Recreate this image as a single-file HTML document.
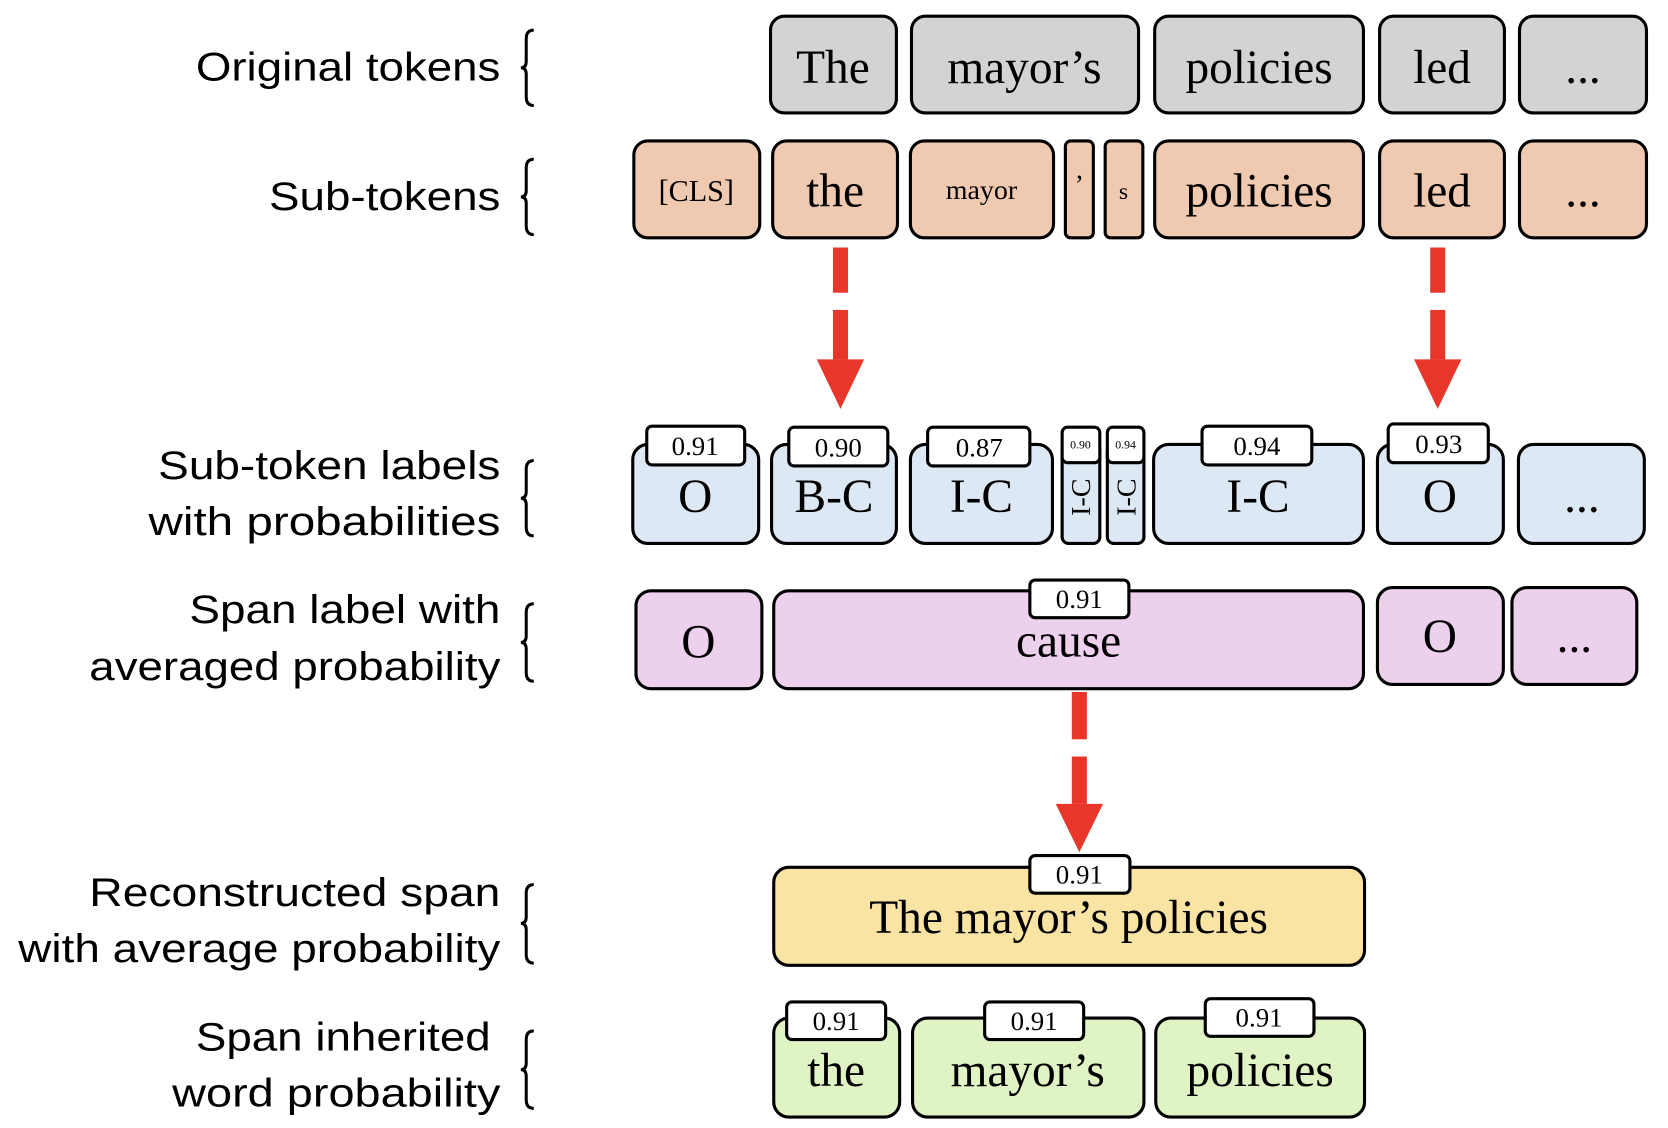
<!DOCTYPE html>
<html><head><meta charset="utf-8"><style>
html,body{margin:0;padding:0;background:#fff;}
svg{display:block;}
.l{font-family:"Liberation Sans",sans-serif;font-size:37px;fill:#000;}
.s{font-family:"Liberation Serif",serif;fill:#000;}
.b{stroke:#000;stroke-width:2.9;}
.br{fill:none;stroke:#000;stroke-width:2.8;}
</style></head><body>
<svg width="1668" height="1128" viewBox="0 0 1550 1048.2" preserveAspectRatio="none" xmlns="http://www.w3.org/2000/svg">
<g class="l" text-anchor="end">
<text x="465" y="75" textLength="283" lengthAdjust="spacingAndGlyphs">Original tokens</text>
<text x="465" y="195" textLength="215" lengthAdjust="spacingAndGlyphs">Sub-tokens</text>
<text x="465" y="445" textLength="318" lengthAdjust="spacingAndGlyphs">Sub-token labels</text>
<text x="465" y="497" textLength="327" lengthAdjust="spacingAndGlyphs">with probabilities</text>
<text x="465" y="579" textLength="289" lengthAdjust="spacingAndGlyphs">Span label with</text>
<text x="465" y="632" textLength="382" lengthAdjust="spacingAndGlyphs">averaged probability</text>
<text x="465" y="842" textLength="382" lengthAdjust="spacingAndGlyphs">Reconstructed span</text>
<text x="465" y="894" textLength="448" lengthAdjust="spacingAndGlyphs">with average probability</text>
<text x="456" y="976" textLength="274" lengthAdjust="spacingAndGlyphs">Span inherited</text>
<text x="465" y="1028" textLength="305" lengthAdjust="spacingAndGlyphs">word probability</text>
</g>
<g class="br">
<path d="M496,28 Q489,28 489,36 L489,57 Q489,63 484,63 Q489,63 489,69 L489,90 Q489,98 496,98"/>
<path d="M496,148 Q489,148 489,156 L489,177 Q489,183 484,183 Q489,183 489,189 L489,210 Q489,218 496,218"/>
<path d="M496,428 Q489,428 489,436 L489,457 Q489,463 484,463 Q489,463 489,469 L489,490 Q489,498 496,498"/>
<path d="M496,561 Q489,561 489,569 L489,591 Q489,597 484,597 Q489,597 489,603 L489,625 Q489,633 496,633"/>
<path d="M496,822 Q489,822 489,830 L489,852 Q489,858 484,858 Q489,858 489,864 L489,887 Q489,895 496,895"/>
<path d="M496,958 Q489,958 489,966 L489,988 Q489,994 484,994 Q489,994 489,1000 L489,1022 Q489,1030 496,1030"/>
</g>
<g class="b" fill="#d3d3d3">
<rect x="716" y="15" width="117" height="90" rx="13"/>
<rect x="847" y="15" width="211" height="90" rx="13"/>
<rect x="1073" y="15" width="194" height="90" rx="13"/>
<rect x="1282" y="15" width="116" height="90" rx="13"/>
<rect x="1412" y="15" width="118" height="90" rx="13"/>
</g>
<g class="s" font-size="44" text-anchor="middle">
<text x="774" y="77">The</text>
<text x="952" y="77">mayor’s</text>
<text x="1170" y="77">policies</text>
<text x="1340" y="77">led</text>
<text x="1471" y="77">...</text>
</g>
<g class="b" fill="#efc9b0">
<rect x="589" y="131" width="117" height="90" rx="13"/>
<rect x="718" y="131" width="116" height="90" rx="13"/>
<rect x="846" y="131" width="133" height="90" rx="13"/>
<rect x="990" y="131" width="26" height="90" rx="5"/>
<rect x="1027" y="131" width="35" height="90" rx="5"/>
<rect x="1073" y="131" width="194" height="90" rx="13"/>
<rect x="1282" y="131" width="116" height="90" rx="13"/>
<rect x="1412" y="131" width="118" height="90" rx="13"/>
</g>
<g class="s" text-anchor="middle">
<text x="647" y="187" font-size="28">[CLS]</text>
<text x="776" y="192" font-size="44">the</text>
<text x="912" y="185" font-size="26">mayor</text>
<text x="1003" y="180" font-size="26">’</text>
<text x="1044" y="185" font-size="22">s</text>
<text x="1170" y="192" font-size="44">policies</text>
<text x="1340" y="192" font-size="44">led</text>
<text x="1471" y="192" font-size="44">...</text>
</g>
<g fill="#e8362a">
<rect x="774" y="230" width="14" height="42"/><rect x="774" y="288" width="14" height="46"/>
<polygon points="759,334 803,334 781,380"/>
<rect x="1329" y="230" width="14" height="42"/><rect x="1329" y="288" width="14" height="46"/>
<polygon points="1314,334 1358,334 1336,380"/>
<rect x="996" y="643" width="14" height="44"/><rect x="996" y="703" width="14" height="44"/>
<polygon points="981,747 1025,747 1003,792"/>
</g>
<g class="b" fill="#dde8f5">
<rect x="588" y="413" width="117" height="92" rx="14"/>
<rect x="717" y="413" width="116" height="92" rx="14"/>
<rect x="846" y="413" width="132" height="92" rx="14"/>
<rect x="987" y="413" width="35" height="92" rx="6"/>
<rect x="1029" y="413" width="34" height="92" rx="6"/>
<rect x="1072" y="413" width="195" height="92" rx="14"/>
<rect x="1280" y="413" width="117" height="92" rx="14"/>
<rect x="1411" y="413" width="117" height="92" rx="14"/>
</g>
<g class="b" fill="#fff">
<rect x="601" y="396" width="91" height="36" rx="5"/>
<rect x="733" y="397" width="92" height="36" rx="5"/>
<rect x="862" y="397" width="95" height="36" rx="5"/>
<rect x="987" y="397" width="35" height="33" rx="5"/>
<rect x="1029" y="397" width="34" height="33" rx="5"/>
<rect x="1117" y="396" width="102" height="36" rx="5"/>
<rect x="1290" y="394" width="93" height="36" rx="5"/>
</g>
<g class="s" text-anchor="middle">
<text x="646" y="423" font-size="25">0.91</text>
<text x="779" y="424" font-size="25">0.90</text>
<text x="910" y="424" font-size="25">0.87</text>
<text x="1004" y="417" font-size="11">0.90</text>
<text x="1046" y="417" font-size="11">0.94</text>
<text x="1168" y="423" font-size="25">0.94</text>
<text x="1337" y="421" font-size="25">0.93</text>
<g font-size="44">
<text x="646" y="476">O</text>
<text x="775" y="476">B-C</text>
<text x="912" y="476">I-C</text>
<text x="1169" y="476">I-C</text>
<text x="1338" y="476">O</text>
<text x="1470" y="476">...</text>
</g>
<text transform="translate(1013,462) rotate(-90)" font-size="26">I-C</text>
<text transform="translate(1055,462) rotate(-90)" font-size="26">I-C</text>
</g>
<g class="b" fill="#edd0ec">
<rect x="591" y="549" width="117" height="91" rx="14"/>
<rect x="719" y="549" width="548" height="91" rx="14"/>
<rect x="1280" y="546" width="117" height="90" rx="14"/>
<rect x="1405" y="546" width="116" height="90" rx="14"/>
</g>
<rect class="b" fill="#fff" x="957" y="539" width="92" height="35" rx="5"/>
<g class="s" text-anchor="middle">
<text x="1003" y="565" font-size="25">0.91</text>
<text x="649" y="611" font-size="44">O</text>
<text x="993" y="610" font-size="44">cause</text>
<text x="1338" y="606" font-size="44">O</text>
<text x="1463" y="606" font-size="44">...</text>
</g>
<rect class="b" fill="#fae4a4" x="719" y="806" width="549" height="91" rx="14"/>
<rect class="b" fill="#fff" x="957" y="795" width="93" height="35" rx="5"/>
<g class="s" text-anchor="middle">
<text x="1003" y="821" font-size="25">0.91</text>
<text x="993" y="867" font-size="44">The mayor’s policies</text>
</g>
<g class="b" fill="#e0f3c5">
<rect x="719" y="946" width="117" height="92" rx="14"/>
<rect x="848" y="946" width="215" height="92" rx="14"/>
<rect x="1074" y="946" width="194" height="92" rx="14"/>
</g>
<g class="b" fill="#fff">
<rect x="731" y="931" width="92" height="35" rx="5"/>
<rect x="915" y="931" width="92" height="35" rx="5"/>
<rect x="1120" y="928" width="101" height="35" rx="5"/>
</g>
<g class="s" text-anchor="middle">
<text x="777" y="957" font-size="25">0.91</text>
<text x="961" y="957" font-size="25">0.91</text>
<text x="1170" y="954" font-size="25">0.91</text>
<text x="777" y="1009" font-size="44">the</text>
<text x="955" y="1009" font-size="44">mayor’s</text>
<text x="1171" y="1009" font-size="44">policies</text>
</g>
</svg>
</body></html>
